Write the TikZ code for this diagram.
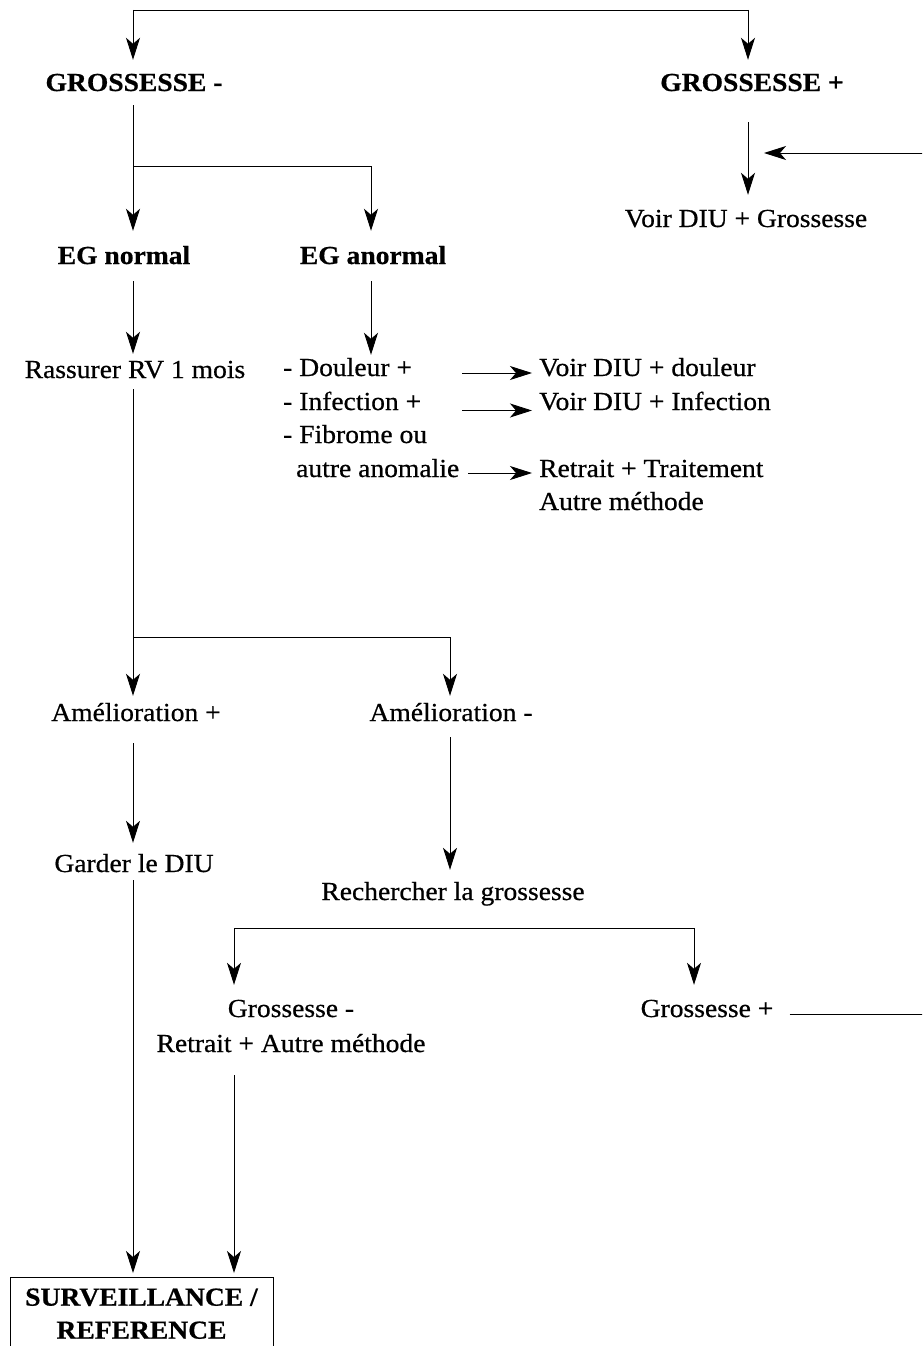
\documentclass[tikz,border=0pt]{standalone}
\usepackage{fontspec}
\setmainfont{Liberation Serif}[FakeStretch=1.06,FakeBold=0.6]
\usetikzlibrary{arrows.meta,calc}
\newcommand{\diagfont}{\fontsize{26}{33}\selectfont}
\begin{document}
\begin{tikzpicture}[x=1pt,y=-1pt,
  tx/.style={inner sep=0pt, text height=17pt, text depth=6pt, anchor=base, font=\diagfont},
  bx/.style={tx, font=\diagfont\bfseries},
  lw/.style={tx, anchor=base west},
  ln/.style={line width=0.9pt},
  arr/.style={ln, -{Stealth[length=22pt,width=14pt,inset=6pt]}}]
\useasboundingbox (0,0) rectangle (922,1346);
\clip (0,0) rectangle (922,1346);
% nodes
\node[bx] (gm) at (134,91) {GROSSESSE -};
\node[bx] (gp) at (752,91) {GROSSESSE +};
\node[tx] (vg) at (746,227) {Voir DIU + Grossesse};
\node[bx] (egn) at (124,264) {EG normal};
\node[bx] (ega) at (373,264) {EG anormal};
\node[tx] (ras) at (135,378) {Rassurer RV 1 mois};
\node[lw] (dou) at (283,376) {- Douleur +};
\node[lw] (inf) at (283,410) {- Infection +};
\node[lw] (fib) at (283,443) {- Fibrome ou};
\node[lw] (ano) at (296,477) {autre anomalie};
\node[lw] (vdd) at (539,376) {Voir DIU + douleur};
\node[lw] (vdi) at (539,410) {Voir DIU + Infection};
\node[lw] (rtt) at (539,477) {Retrait + Traitement};
\node[lw] (aum) at (539,510) {Autre méthode};
\node[tx] (ap) at (136,721) {Amélioration +};
\node[tx] (amm) at (451,721) {Amélioration -};
\node[tx] (gd) at (134,872) {Garder le DIU};
\node[tx] (rg) at (453,900) {Rechercher la grossesse};
\node[tx] (gmi) at (291,1017) {Grossesse -};
\node[tx] (rat) at (291,1052) {Retrait + Autre méthode};
\node[tx] (gpl) at (707,1017) {Grossesse +};
\node[draw, ln, anchor=north, inner sep=0pt, inner ysep=11pt, minimum width=263pt, align=center, font=\diagfont\bfseries] (sr) at (141.5,1277) {SURVEILLANCE /\\REFERENCE};
% coordinates
\coordinate (cA) at (133,0);
\coordinate (cB) at (371,0);
\coordinate (cC) at (450,0);
\coordinate (cD) at (234,0);
\coordinate (cE) at (694,0);
\coordinate (cF) at (748,0);
\coordinate (cR) at (930,0);
\coordinate (tl) at (133,10);
\coordinate (tr) at (748,10);
\coordinate (j1) at (133,166);
\coordinate (j1b) at (371,166);
\coordinate (j2) at (133,637);
\coordinate (j3) at (450,637);
\coordinate (j4) at (234,928);
\coordinate (j5) at (694,928);
\coordinate (ra) at (764,153);
% connectors
\draw[ln] (tl) -- (tr);
\draw[arr, shorten >=14pt] (tl) -- (tl |- gm.north);
\draw[arr, shorten >=14pt] (tr) -- (tr |- gp.north);
\draw[arr, shorten <=8pt, shorten >=16pt] (cA |- gm.south) -- (cA |- egn.north);
\draw[arr, shorten >=16pt] (j1) -- (j1b) -- (cB |- ega.north);
\draw[arr, shorten <=25pt, shorten >=15pt] (cF |- gp.south) -- (cF |- vg.north);
\draw[arr, shorten <=16pt] ([yshift=-2.5pt]gpl.east) -- ([yshift=-2.5pt]gpl.east -| cR) -- (cR |- ra) -- (ra);
\draw[arr, shorten <=11pt, shorten >=7pt] (cA |- egn.south) -- (cA |- ras.north);
\draw[arr, shorten <=11pt, shorten >=4pt] (cB |- ega.south) -- (cB |- dou.north);
\draw[arr] ([xshift=-77pt,yshift=-2.5pt]vdd.west) -- ([xshift=-7pt,yshift=-2.5pt]vdd.west);
\draw[arr] ([xshift=-77pt,yshift=-6pt]vdi.west) -- ([xshift=-7pt,yshift=-6pt]vdi.west);
\draw[arr] ([xshift=-71pt,yshift=-1.5pt]rtt.west) -- ([xshift=-7pt,yshift=-1.5pt]rtt.west);
\draw[arr, shorten <=5pt, shorten >=8pt] (cA |- ras.south) -- (cA |- ap.north);
\draw[arr, shorten >=8pt] (j2) -- (j3) -- (cC |- amm.north);
\draw[arr, shorten <=16pt, shorten >=12pt] (cA |- ap.south) -- (cA |- gd.north);
\draw[arr, shorten <=10pt, shorten >=13pt] (cC |- amm.south) -- (cC |- rg.north);
\draw[arr, shorten >=15pt] (j5) -- (j4) -- (cD |- gmi.north);
\draw[arr, shorten >=15pt] (j5) -- (cE |- gpl.north);
\draw[arr, shorten <=2pt, shorten >=4pt] (cA |- gd.south) -- (cA |- sr.north);
\draw[arr, shorten <=17pt, shorten >=4pt] (cD |- rat.south) -- (cD |- sr.north);
\end{tikzpicture}
\end{document}
